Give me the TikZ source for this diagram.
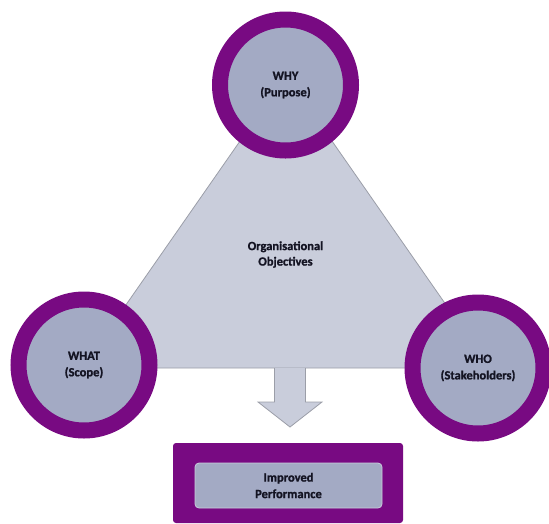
\documentclass[tikz,border=0pt]{standalone}
\usepackage{fontspec}
\setmainfont{Carlito}[BoldFont={Carlito Bold}, BoldFeatures={FakeBold=1.2}]
\usetikzlibrary{positioning, calc}

\definecolor{ringpurple}{RGB}{120,10,130}
\definecolor{discgray}{RGB}{163,170,196}
\definecolor{trigray}{RGB}{201,205,219}
\definecolor{edgegray}{RGB}{155,158,168}
\definecolor{textdark}{RGB}{20,20,35}

\begin{document}
\begin{tikzpicture}[x=1pt, y=-1pt,
	ring/.style={circle, draw=ringpurple, line width=16pt, fill=discgray, minimum size=131pt, inner sep=0pt, align=center, font=\bfseries\fontsize{12.5}{16.5}\selectfont, text=textdark},
	caption/.style={align=center, font=\bfseries\fontsize{12.5}{15.5}\selectfont, text=textdark},
	blockarrow/.style={fill=trigray, draw=edgegray, line width=0.8pt},
	outerbox/.style={fill=ringpurple, rounded corners=3pt, minimum width=230pt, minimum height=80pt},
	innerbox/.style={fill=discgray, draw=discgray!60!white, line width=0.8pt, rounded corners=4pt, minimum width=187pt, minimum height=45pt, align=center, font=\bfseries\fontsize{12.5}{16.5}\selectfont, text=textdark}]
	\useasboundingbox (0,0) rectangle (549,523);
	
	\coordinate (apex) at (286,75);
	\coordinate (baseL) at (82,368);
	\coordinate (baseR) at (490,368);
	\coordinate (arrtop) at (290,368);
	
	% triangle behind the circles
	\filldraw[fill=trigray, draw=edgegray, line width=0.8pt] (apex) -- (baseL) -- (baseR) -- cycle;
	\node[caption] (obj) at (285.5,254.5) {Organisational\\Objectives};
	
	\node[ring] (why) at (285.5,85) {WHY\\(Purpose)};
	\node[ring] (what) at (84,365) {WHAT\\(Scope)};
	\node[ring] (who) at (478,368) {WHO\\(Stakeholders)};
	
	% arrow down to the result
	\filldraw[blockarrow] (arrtop) ++(-15.5,0) -- ++(0,34) -- ++(-16.5,0) -- ++(32,25) -- ++(32,-25) -- ++(-16.5,0) -- ++(0,-34);
	
	\node[outerbox] (perfbox) at (288,483) {};
	\node[innerbox] (perf) at (288.5,485.5) {Improved\\Performance};
\end{tikzpicture}
\end{document}
